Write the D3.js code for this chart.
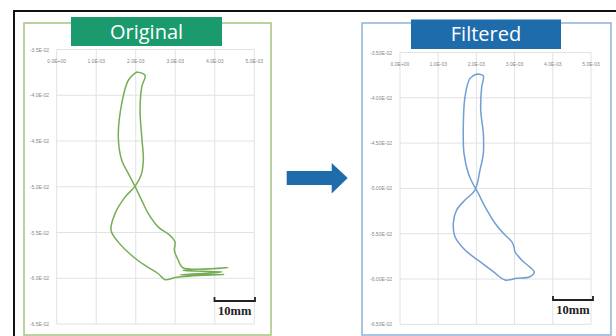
<!DOCTYPE html>
<html>
<head>
<meta charset="utf-8">
<script src="https://cdn.jsdelivr.net/npm/d3@7"></script>
<style>
  body { margin: 0; background: #fff; }
  svg { display: block; }
</style>
</head>
<body>
<div id="chart"></div>
<script>
// axis ticks (data units)
const xTicks = [0, 0.001, 0.002, 0.003, 0.004, 0.005];
const yTicks = [-0.035, -0.04, -0.045, -0.05, -0.055, -0.06, -0.065];
const xTickLabels = ['0.0E+00', '1.0E-03', '2.0E-03', '3.0E-03', '4.0E-03', '5.0E-03'];
const yTickLabelsOriginal = ['-3.5E-02', '-4.0E-02', '-4.5E-02', '-5.0E-02', '-5.5E-02', '-6.0E-02', '-6.5E-02'];
const yTickLabelsFiltered = ['-3.50E-02', '-4.00E-02', '-4.50E-02', '-5.00E-02', '-5.50E-02', '-6.00E-02', '-6.50E-02'];

// trajectory [x, y]
const originalPath = [
  [0.002025, -0.03745], [0.002235, -0.03781], [0.002152, -0.03909], [0.002109, -0.04164],
  [0.002152, -0.04456], [0.002192, -0.04711], [0.002134, -0.04875], [0.001982, -0.04996],
  [0.001729, -0.05113], [0.001476, -0.05294], [0.001375, -0.05477], [0.001559, -0.05605],
  [0.001899, -0.05751], [0.002235, -0.05860], [0.002572, -0.05951], [0.002742, -0.06016],
  [0.003038, -0.05988], [0.004235, -0.05958], [0.003122, -0.05964], [0.004185, -0.05931],
  [0.003197, -0.05915], [0.004329, -0.05885], [0.003190, -0.05885], [0.003078, -0.05805],
  [0.002977, -0.05696], [0.002995, -0.05605], [0.002868, -0.05532], [0.002572, -0.05441],
  [0.002319, -0.05294], [0.002152, -0.05149], [0.001982, -0.04996], [0.001813, -0.04857],
  [0.001646, -0.04711], [0.001559, -0.04456], [0.001646, -0.04088], [0.001813, -0.03836],
  [0.002025, -0.03745]
];

const filteredPath = [
  [0.002008, -0.03737], [0.002181, -0.03759], [0.002139, -0.03877], [0.002113, -0.04135],
  [0.002181, -0.04392], [0.002181, -0.04613], [0.002094, -0.04797], [0.001963, -0.05018],
  [0.001702, -0.05128], [0.001484, -0.05238], [0.001395, -0.05385], [0.001440, -0.05533],
  [0.001702, -0.05680], [0.002094, -0.05809], [0.002442, -0.05919], [0.002749, -0.06011],
  [0.003055, -0.05992], [0.003403, -0.05975], [0.003516, -0.05919], [0.003403, -0.05871],
  [0.003186, -0.05790], [0.003010, -0.05699], [0.002984, -0.05643], [0.002924, -0.05588],
  [0.002704, -0.05496], [0.002487, -0.05385], [0.002225, -0.05202], [0.002050, -0.05054],
  [0.001885, -0.04929], [0.001788, -0.04833], [0.001675, -0.04613], [0.001657, -0.04319],
  [0.001702, -0.03988], [0.001832, -0.03785], [0.002008, -0.03737]
];

const svg = d3.select('#chart')
  .append('svg')
  .attr('width', 616)
  .attr('height', 336);

// outer black frame (runs off the right and bottom edges)
svg.append('rect')
  .attr('x', 14).attr('y', 11)
  .attr('width', 640).attr('height', 360)
  .attr('fill', 'none')
  .attr('stroke', '#111')
  .attr('stroke-width', 2);

const drawPanel = (opts) => {
  const g = svg.append('g');

  // panel border
  g.append('rect')
    .attr('x', opts.box[0]).attr('y', opts.box[1])
    .attr('width', opts.box[2]).attr('height', opts.box[3])
    .attr('fill', '#fff')
    .attr('stroke', opts.border)
    .attr('stroke-width', 1.5);

  const xScale = d3.scaleLinear().domain([0, 0.005]).range(opts.xRange);
  const yScale = d3.scaleLinear().domain([-0.035, -0.065]).range(opts.yRange);

  // gridlines
  g.append('g')
    .selectAll('line')
    .data(xTicks)
    .join('line')
    .attr('x1', (d) => xScale(d)).attr('x2', (d) => xScale(d))
    .attr('y1', opts.yRange[0]).attr('y2', opts.yRange[1])
    .attr('stroke', '#e2e2e2')
    .attr('stroke-width', 1);

  g.append('g')
    .selectAll('line')
    .data(yTicks)
    .join('line')
    .attr('x1', opts.xRange[0]).attr('x2', opts.xRange[1])
    .attr('y1', (d) => yScale(d)).attr('y2', (d) => yScale(d))
    .attr('stroke', '#e2e2e2')
    .attr('stroke-width', 1);

  // tick labels
  g.append('g')
    .selectAll('text')
    .data(xTicks)
    .join('text')
    .attr('x', (d) => xScale(d))
    .attr('y', opts.yRange[0] + 13)
    .attr('text-anchor', 'middle')
    .attr('font-family', 'Liberation Sans, sans-serif')
    .attr('font-size', 5)
    .attr('fill', '#888')
    .text((d, i) => xTickLabels[i]);

  g.append('g')
    .selectAll('text')
    .data(yTicks)
    .join('text')
    .attr('x', opts.yLabelX)
    .attr('y', (d) => yScale(d) + 2)
    .attr('text-anchor', 'end')
    .attr('font-family', 'Liberation Sans, sans-serif')
    .attr('font-size', 5)
    .attr('fill', '#888')
    .text((d, i) => opts.yLabels[i]);

  // trajectory
  const line = d3.line()
    .x((d) => xScale(d[0]))
    .y((d) => yScale(d[1]))
    .curve(d3.curveCatmullRom.alpha(0.5));

  g.append('path')
    .datum(opts.path)
    .attr('d', line)
    .attr('fill', 'none')
    .attr('stroke', opts.lineColor)
    .attr('stroke-width', 1.5)
    .attr('stroke-linejoin', 'round');

  // title badge
  g.append('rect')
    .attr('x', opts.title[0]).attr('y', opts.title[1])
    .attr('width', opts.title[2]).attr('height', opts.title[3])
    .attr('fill', opts.titleFill);

  g.append('text')
    .attr('x', opts.title[0] + opts.title[2] / 2)
    .attr('y', opts.title[1] + opts.title[3] / 2 + 7)
    .attr('text-anchor', 'middle')
    .attr('font-family', 'Open Sans, sans-serif')
    .attr('font-size', 20)
    .attr('fill', '#fff')
    .text(opts.label);

  // 10mm scale bar
  const sb = opts.scaleBar;
  g.append('path')
    .attr('d', `M${sb[0]},${sb[1] - 4}V${sb[1]}H${sb[2]}V${sb[1] - 4}`)
    .attr('fill', 'none')
    .attr('stroke', '#222')
    .attr('stroke-width', 1.8);

  g.append('text')
    .attr('x', (sb[0] + sb[2]) / 2)
    .attr('y', sb[1] + 14)
    .attr('text-anchor', 'middle')
    .attr('font-family', 'Liberation Serif, serif')
    .attr('font-weight', 'bold')
    .attr('font-size', 12.5)
    .attr('fill', '#222')
    .text('10mm');
};

drawPanel({
  box: [24, 23, 247, 312],
  border: '#a7c47c',
  xRange: [56.7, 254.3],
  yRange: [49.5, 324],
  yLabelX: 49,
  yLabels: yTickLabelsOriginal,
  path: originalPath,
  lineColor: '#77ad55',
  title: [71, 17, 151, 29],
  titleFill: '#1b9a6e',
  label: 'Original',
  scaleBar: [214.5, 301, 255]
});

drawPanel({
  box: [362, 23, 249, 312],
  border: '#8db2d8',
  xRange: [400, 591],
  yRange: [52.5, 324.3],
  yLabelX: 392,
  yLabels: yTickLabelsFiltered,
  path: filteredPath,
  lineColor: '#6f9fd4',
  title: [411, 19.5, 150, 29.5],
  titleFill: '#1f6cac',
  label: 'Filtered',
  scaleBar: [553, 300, 593]
});

// arrow between panels
svg.append('path')
  .attr('d', 'M286.7,171V185H331.7V193.5L347.7,178L331.7,163V171Z')
  .attr('fill', '#1f6cac');
</script>
</body>
</html>
